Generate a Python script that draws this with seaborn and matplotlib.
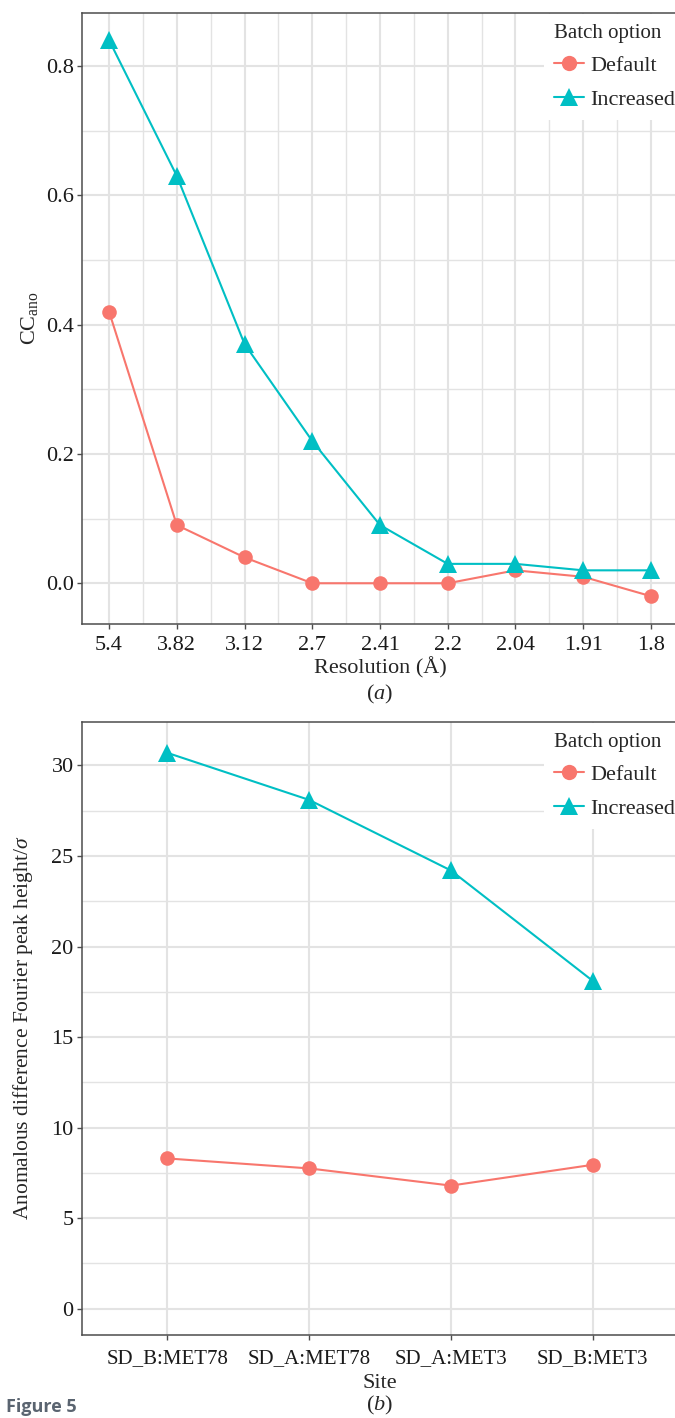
import numpy as np
import pandas as pd
import matplotlib
matplotlib.use("Agg")
import matplotlib.pyplot as plt
from matplotlib.ticker import FixedLocator
import seaborn as sns

# ---- data ----
resolution_labels = ["5.4", "3.82", "3.12", "2.7", "2.41", "2.2", "2.04", "1.91", "1.8"]
cc_default = [0.42, 0.09, 0.04, 0.0, 0.0, 0.0, 0.02, 0.01, -0.02]
cc_increased = [0.84, 0.63, 0.37, 0.22, 0.09, 0.03, 0.03, 0.02, 0.02]

sites = ["SD_B:MET78", "SD_A:MET78", "SD_A:MET3", "SD_B:MET3"]
peak_default = [8.3, 7.75, 6.8, 7.95]
peak_increased = [30.7, 28.1, 24.2, 18.1]

batch_options = ["Default", "Increased"]
colors = ["#F8766D", "#00BFC4"]

sns.set_theme(style="white")
plt.rcParams["font.family"] = ["Liberation Serif", "DejaVu Serif"]
plt.rcParams["mathtext.fontset"] = "custom"
plt.rcParams["mathtext.rm"] = "Liberation Serif"
plt.rcParams["mathtext.it"] = "Liberation Serif:italic"

W, H = 675, 1418
fig = plt.figure(figsize=(W / 100, H / 100), dpi=100)

def fx(px):
    return px / W

def fy(px):
    return 1 - px / H

FS = 15
TFS = 16
grid_c = "#E3E3E3"
spine_c = "#4D4D4D"

def style_axes(ax, xpad):
    for s in ax.spines.values():
        s.set_color(spine_c)
        s.set_linewidth(1.1)
    ax.set_facecolor("white")
    ax.grid(True, which="major", color=grid_c, linewidth=1.5, zorder=0)
    ax.grid(True, which="minor", color=grid_c, linewidth=1.0, zorder=0)
    ax.set_axisbelow(True)
    ax.tick_params(axis="both", which="major", direction="out", length=3.5,
                   width=1.0, color=spine_c, labelsize=TFS, pad=2.5,
                   labelcolor="#1a1a1a", bottom=True, left=True)
    ax.tick_params(axis="x", which="major", pad=xpad)
    ax.tick_params(axis="both", which="minor", length=0)

def draw(ax, xvals, ydef, yinc, legend_top):
    df = pd.DataFrame({
        "x": list(xvals) * 2,
        "y": list(ydef) + list(yinc),
        "Batch option": [batch_options[0]] * len(ydef) + [batch_options[1]] * len(yinc),
    })
    sns.lineplot(data=df, x="x", y="y", hue="Batch option", style="Batch option",
                 markers=["o", "^"], dashes=False, palette=colors, ax=ax,
                 linewidth=1.5, markersize=10.5, markeredgewidth=0, legend=True,
                 sort=False, zorder=3)
    for line in ax.get_lines():
        if line.get_marker() == "^":
            line.set_markersize(13)
    handles, labels = ax.get_legend_handles_labels()
    for h in handles:
        if h.get_marker() == "^":
            h.set_markersize(13)
        else:
            h.set_markersize(11)
        h.set_markeredgewidth(0)
    leg = ax.legend(handles, labels, title="Batch option", loc="upper left",
                    bbox_to_anchor=(fx(544), fy(legend_top)), bbox_transform=fig.transFigure,
                    frameon=True, fancybox=False, framealpha=1.0, edgecolor="white",
                    fontsize=FS + 1, title_fontsize=FS, handlelength=1.35,
                    handletextpad=0.28, labelspacing=0.6, borderpad=0.45,
                    borderaxespad=0)
    leg._legend_box.align = "left"
    leg._legend_box.sep = 9
    leg.get_frame().set_linewidth(0)
    ax.set_xlabel("")
    ax.set_ylabel("")

# ---- panel (a) ----
ax1 = fig.add_axes([fx(82), fy(624), fx(596), (624 - 13) / H])
style_axes(ax1, 5.0)
idx = np.arange(len(resolution_labels))
draw(ax1, idx, cc_default, cc_increased, 14)
ax1.set_xlim(-0.4, 8.4)
ax1.set_ylim(-0.063, 0.882)
ax1.xaxis.set_major_locator(FixedLocator(idx))
ax1.set_xticklabels(resolution_labels)
ax1.xaxis.set_minor_locator(FixedLocator(idx[:-1] + 0.5))
ax1.yaxis.set_major_locator(FixedLocator([0.0, 0.2, 0.4, 0.6, 0.8]))
ax1.set_yticklabels(["0.0", "0.2", "0.4", "0.6", "0.8"])
ax1.yaxis.set_minor_locator(FixedLocator([0.1, 0.3, 0.5, 0.7]))
fig.text(fx(380), fy(668), "Resolution (Å)", ha="center", va="center", fontsize=FS + 1)
fig.text(fx(30), fy(318), r"CC$_{\mathrm{ano}}$", ha="center", va="center",
         rotation=90, fontsize=FS + 1)
fig.text(fx(380), fy(694), r"($\mathit{a}$)", ha="center", va="center", fontsize=FS + 1)

# ---- panel (b) ----
ax2 = fig.add_axes([fx(82), fy(1335), fx(596), (1335 - 722) / H])
style_axes(ax2, 7.0)
sidx = np.arange(len(sites))
draw(ax2, sidx, peak_default, peak_increased, 723)
ax2.set_xlim(-0.6, 3.6)
ax2.set_ylim(-1.45, 32.4)
ax2.xaxis.set_major_locator(FixedLocator(sidx))
ax2.set_xticklabels(sites, fontsize=FS)
ax2.yaxis.set_major_locator(FixedLocator([0, 5, 10, 15, 20, 25, 30]))
ax2.set_yticklabels(["0", "5", "10", "15", "20", "25", "30"])
ax2.yaxis.set_minor_locator(FixedLocator([2.5, 7.5, 12.5, 17.5, 22.5, 27.5]))
fig.text(fx(380), fy(1383), "Site", ha="center", va="center", fontsize=FS + 1)
fig.text(fx(23), fy(1028), r"Anomalous difference Fourier peak height/$\mathit{σ}$",
         ha="center", va="center", rotation=90, fontsize=FS + 0.5)
fig.text(fx(380), fy(1405), r"($\mathit{b}$)", ha="center", va="center", fontsize=FS + 1)

fig.text(fx(6), fy(1416), "Figure 5", ha="left", va="bottom", fontsize=13,
         fontweight="bold", color="#5a6470", family=["Open Sans", "DejaVu Sans"])

fig.savefig("out.png", dpi=100)
